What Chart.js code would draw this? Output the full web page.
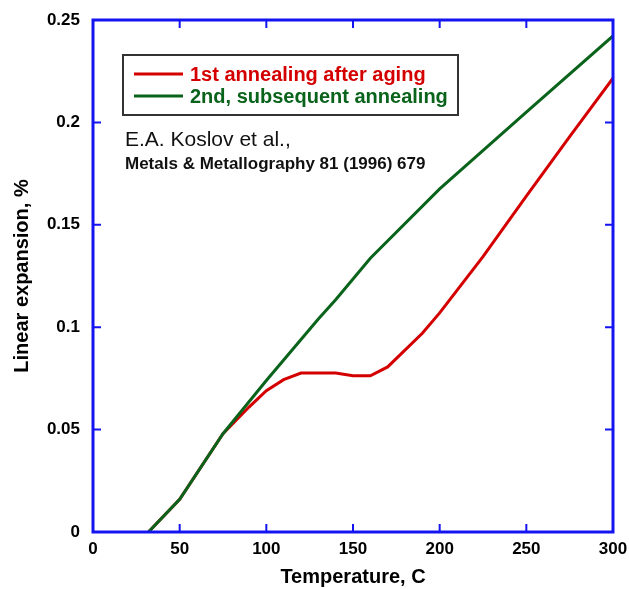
<!DOCTYPE html>
<html>
<head>
<meta charset="utf-8">
<script src="https://cdn.jsdelivr.net/npm/chart.js@4/dist/chart.umd.min.js"></script>
<style>
  html, body { margin: 0; padding: 0; background: #fff; }
</style>
</head>
<body>
<canvas id="chart" width="629" height="589"></canvas>
<script>
// first annealing after aging
const temps1 = [32, 50, 75, 90, 100, 110, 120, 140, 150, 160, 170, 190, 200, 225, 250, 275, 300];
const expansion1 = [0, 0.016, 0.048, 0.061, 0.069, 0.0744, 0.0776, 0.0776, 0.0763, 0.0763, 0.0806, 0.097, 0.107, 0.1345, 0.164, 0.193, 0.2216];
// second, subsequent annealing
const temps2 = [32, 50, 75, 100, 130, 140, 160, 200, 250, 300];
const expansion2 = [0, 0.016, 0.048, 0.074, 0.104, 0.1134, 0.1337, 0.1675, 0.205, 0.2422];

const seriesNames = ["1st annealing after aging", "2nd, subsequent annealing"];
const xTickLabels = ["0", "50", "100", "150", "200", "250", "300"];
const yTickLabels = ["0", "0.05", "0.1", "0.15", "0.2", "0.25"];
const citation = ["E.A. Koslov et al.,", "Metals & Metallography 81 (1996) 679"];

const RED = "#d40000";
const GREEN = "#0a631b";
const BLUE = "#1414f0";
const FONT = "'Liberation Sans', Arial, sans-serif";

const toPoints = (xs, ys) => xs.map((x, i) => ({ x: x, y: ys[i] }));

// frame, inward ticks, legend box and reference text
const decorations = {
  id: "decorations",
  afterDatasetsDraw(chart) {
    const ctx = chart.ctx;
    const a = chart.chartArea;
    const xs = chart.scales.x, ys = chart.scales.y;
    ctx.save();
    ctx.strokeStyle = BLUE;
    ctx.lineWidth = 2;
    xs.ticks.forEach(t => {
      const px = xs.getPixelForValue(t.value);
      ctx.beginPath();
      ctx.moveTo(px, a.bottom); ctx.lineTo(px, a.bottom - 8);
      ctx.moveTo(px, a.top); ctx.lineTo(px, a.top + 8);
      ctx.stroke();
    });
    ys.ticks.forEach(t => {
      const py = ys.getPixelForValue(t.value);
      ctx.beginPath();
      ctx.moveTo(a.left, py); ctx.lineTo(a.left + 8, py);
      ctx.moveTo(a.right, py); ctx.lineTo(a.right - 8, py);
      ctx.stroke();
    });
    ctx.lineWidth = 3;
    ctx.strokeRect(a.left, a.top, a.right - a.left, a.bottom - a.top);

    // legend
    ctx.strokeStyle = "#333";
    ctx.lineWidth = 2;
    ctx.strokeRect(123, 55, 335, 60);
    const rows = [[RED, 74], [GREEN, 96]];
    ctx.lineWidth = 3;
    ctx.font = "bold 20px " + FONT;
    ctx.textBaseline = "middle";
    rows.forEach((r, i) => {
      ctx.strokeStyle = r[0];
      ctx.beginPath();
      ctx.moveTo(134, r[1]); ctx.lineTo(183, r[1]);
      ctx.stroke();
      ctx.fillStyle = r[0];
      ctx.fillText(seriesNames[i], 190, r[1] + 1);
    });

    ctx.fillStyle = "#111";
    ctx.textBaseline = "alphabetic";
    ctx.font = "21px " + FONT;
    ctx.fillText(citation[0], 125, 146);
    ctx.font = "bold 17px " + FONT;
    ctx.fillText(citation[1], 125, 169);
    ctx.restore();
  }
};

new Chart(document.getElementById("chart"), {
  type: "line",
  data: {
    datasets: [
      {
        label: seriesNames[0],
        data: toPoints(temps1, expansion1),
        borderColor: RED,
        borderWidth: 3,
        pointRadius: 0,
        tension: 0,
        order: 1
      },
      {
        label: seriesNames[1],
        data: toPoints(temps2, expansion2),
        borderColor: GREEN,
        borderWidth: 3,
        pointRadius: 0,
        tension: 0,
        order: 0
      }
    ]
  },
  options: {
    responsive: false,
    animation: false,
    layout: { padding: { top: 20, right: 16, left: 0, bottom: 0 } },
    plugins: { legend: { display: false }, tooltip: { enabled: false } },
    scales: {
      x: {
        type: "linear",
        min: 0,
        max: 300,
        afterFit: s => { s.height = 57; s.paddingLeft = 0; s.paddingRight = 0; },
        grid: { display: false, drawTicks: false },
        border: { display: false },
        ticks: {
          stepSize: 50,
          padding: 7,
          color: "#000",
          font: { family: FONT, size: 17, weight: "bold" },
          callback: (v, i) => xTickLabels[i]
        },
        title: {
          display: true,
          text: "Temperature, C",
          color: "#000",
          padding: { top: 0, bottom: 0 },
          font: { family: FONT, size: 20, weight: "bold" }
        }
      },
      y: {
        min: 0,
        max: 0.25,
        afterFit: s => { s.width = 93; s.paddingTop = 0; s.paddingBottom = 0; },
        grid: { display: false, drawTicks: false },
        border: { display: false },
        ticks: {
          stepSize: 0.05,
          padding: 13,
          color: "#000",
          font: { family: FONT, size: 17, weight: "bold" },
          callback: (v, i) => yTickLabels[i]
        },
        title: {
          display: true,
          text: "Linear expansion, %",
          color: "#000",
          padding: { top: 10, bottom: 0 },
          font: { family: FONT, size: 20, weight: "bold" }
        }
      }
    }
  },
  plugins: [decorations]
});
</script>
</body>
</html>
